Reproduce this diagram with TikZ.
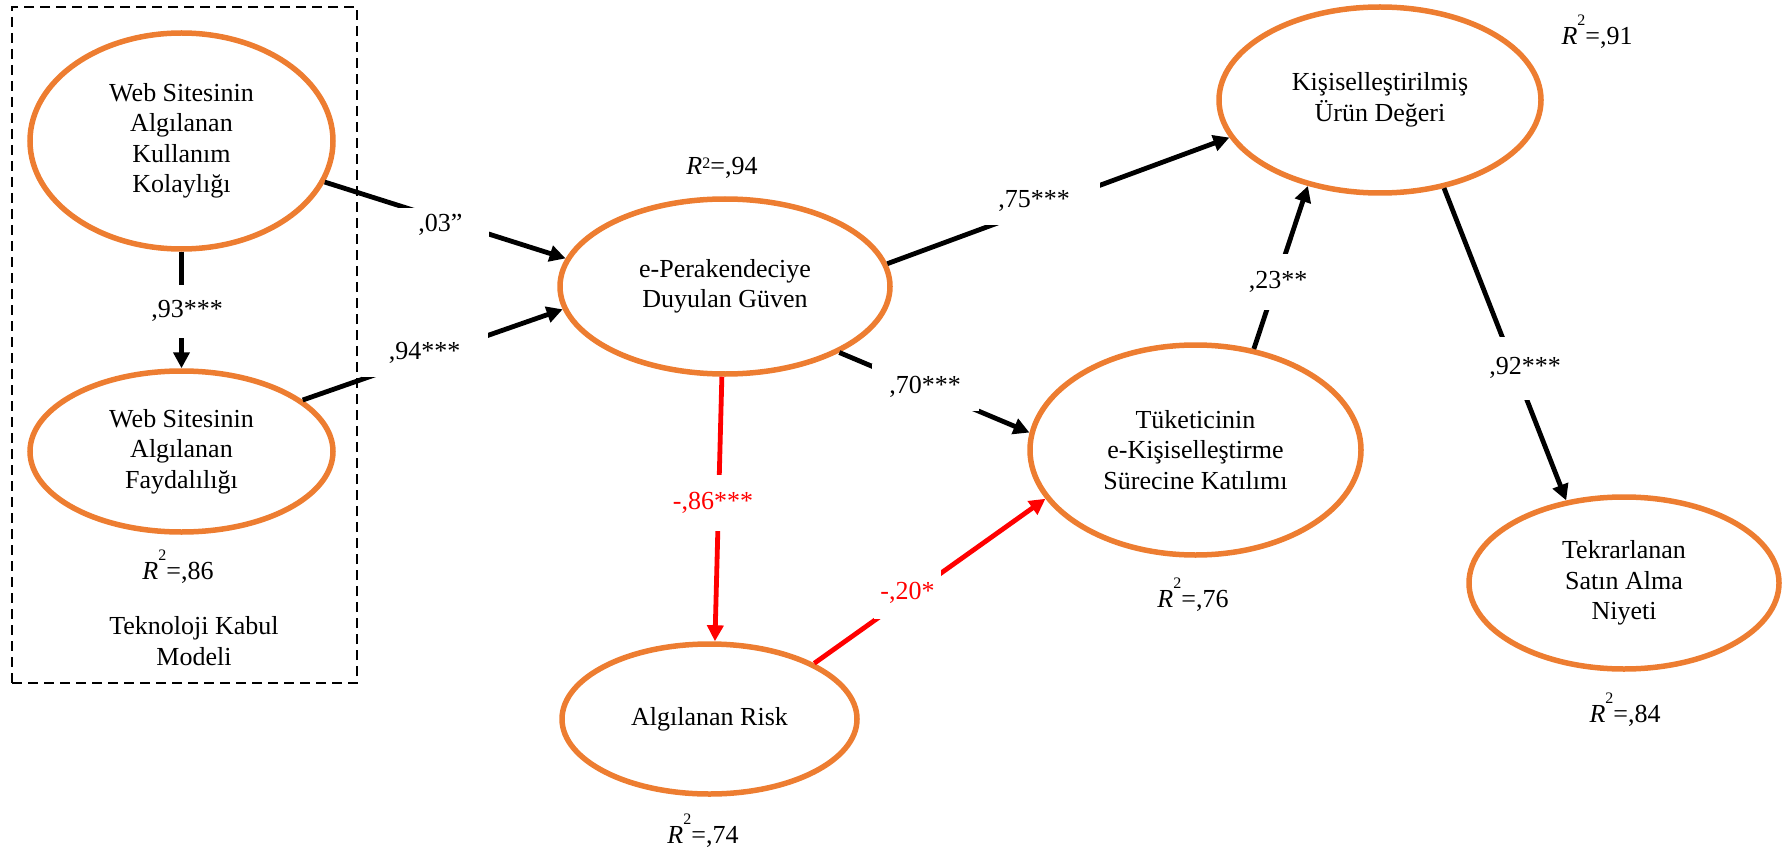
\documentclass[tikz,border=0pt]{standalone}
\usepackage{fontspec}
\setmainfont{Liberation Serif}
\usetikzlibrary{arrows.meta,shapes.geometric}
\definecolor{latent}{HTML}{ED7D31}
\definecolor{negpath}{HTML}{FF0000}
% squared-R superscripts: a raised one and a plain one
\newcommand\sqhi{\raisebox{19pt}{\fontsize{16}{16}\selectfont 2}}
\newcommand\sqlo{\raisebox{6pt}{\fontsize{16}{16}\selectfont 2}}
\begin{document}
\begin{tikzpicture}[x=1pt,y=-1pt,
  every node/.style={font=\fontsize{26}{30.5}\selectfont, inner sep=0pt},
  construct/.style={ellipse, draw=latent, line width=5.5pt, align=center},
  pathline/.style={line width=4.8pt, -{Triangle[length=16pt,width=16pt]}},
  negline/.style={pathline, draw=negpath},
  coef/.style={fill=white, text=black},
  negcoef/.style={fill=white, text=negpath},
  rsq/.style={anchor=base},
  frame/.style={draw, line width=2pt, dash pattern=on 10pt off 6pt}
]
\useasboundingbox (0,0) rectangle (1784,850);

% Technology acceptance model frame
\node[frame, minimum width=345pt, minimum height=676pt] (tam) at (184.5,345) {};

% constructs
\node[construct, minimum width=303pt, minimum height=216pt] (peou) at (181.5,141)
  {Web Sitesinin\\Algılanan\\Kullanım\\Kolaylığı};
\node[construct, minimum width=303pt, minimum height=161pt] (pu) at (181.5,451.5)
  {Web Sitesinin\\Algılanan\\Faydalılığı};
\node[construct, minimum width=330pt, minimum height=175pt] (trust) at (725,286.5)
  {e-Perakendeciye\\Duyulan Güven};
\node[construct, minimum width=295pt, minimum height=150pt] (risk) at (709.5,719)
  {Algılanan Risk};
\node[construct, minimum width=331pt, minimum height=210pt] (part) at (1195.5,450)
  {Tüketicinin\\e-Kişiselleştirme\\Sürecine Katılımı};
\node[construct, minimum width=322pt, minimum height=186pt] (value) at (1380,100)
  {Kişiselleştirilmiş\\Ürün Değeri};
\node[construct, minimum width=310pt, minimum height=172pt] (intent) at (1624,583)
  {Tekrarlanan\\Satın Alma\\Niyeti};

% paths
\draw[pathline] (peou.-90) -- (pu.90);
\draw[pathline] (peou.-16.2) -- (trust.170.8);
\draw[pathline] (pu.23.5) -- (trust.-172.8);
\draw[pathline] (trust.8.7) -- (value.-166.6);
\draw[pathline] (trust.-30) -- (part.174.2);
\draw[negline] (trust.-92) -- (risk.86);
\draw[negline] (risk.28.3) -- (part.-162.7);
\draw[pathline] (part.60.5) -- (value.230.7);
\draw[pathline] (value.-54.4) -- (intent.125.7);

% path coefficients
\node[coef, minimum width=80pt, minimum height=53pt] (c93) at (187,311) {,93***};
\node[coef, minimum width=96pt, minimum height=34pt] (c03) at (440.5,225) {,03”};
\node[coef, minimum width=126pt, minimum height=47pt] (c94) at (424.5,353) {,94***};
\node[coef, minimum width=132pt, minimum height=49pt] (c75) at (1034,201) {,75***};
\node[coef, minimum width=107pt, minimum height=47pt] (c70) at (925,387) {,70***};
\node[negcoef, minimum width=90pt, minimum height=56pt] (c86) at (713,503) {-,86***};
\node[negcoef, minimum width=67pt, minimum height=51pt] (c20) at (907.5,593) {-,20*};
\node[coef, minimum width=70pt, minimum height=55pt] (c23) at (1278,282) {,23**};
\node[coef, minimum width=80pt, minimum height=63pt] (c92) at (1525,368) {,92***};

% explained variance
\node[rsq] (rpu) at (178,579) {\textit{R}\sqhi=,86};
\node[rsq] (rtrust) at (722,175) {\textit{R}\sqlo=,94};
\node[rsq] (rrisk) at (703,843) {\textit{R}\sqhi=,74};
\node[rsq] (rpart) at (1193,607) {\textit{R}\sqhi=,76};
\node[rsq] (rvalue) at (1597,45) {\textit{R}\sqhi=,91};
\node[rsq] (rintent) at (1625,722) {\textit{R}\sqhi=,84};

% frame caption
\node[align=center] (tamcap) at (194,641) {Teknoloji Kabul\\Modeli};
\end{tikzpicture}
\end{document}
